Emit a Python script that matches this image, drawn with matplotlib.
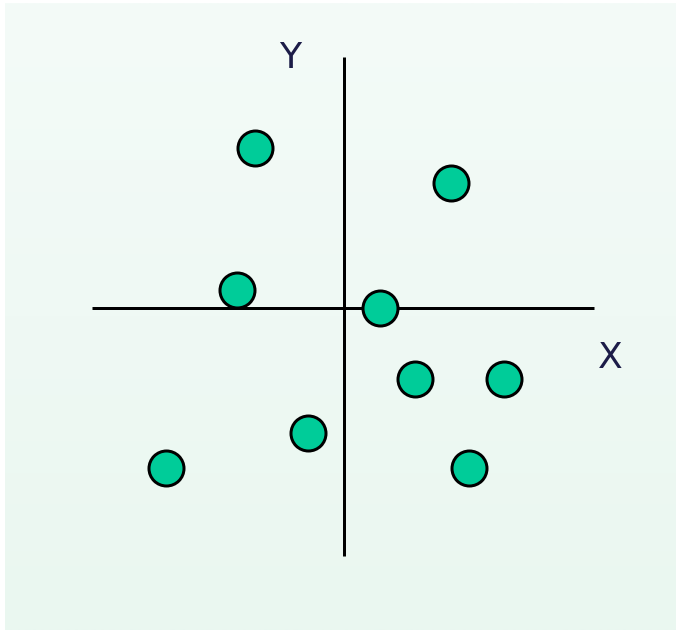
import matplotlib
matplotlib.use("Agg")
import matplotlib.pyplot as plt
import numpy as np

# Data (grid units)
x_vals = [-5, 6, -6, 2, 4, 9, -2, -10, 7]
y_vals = [9, 7, 1, 0, -4, -4, -7, -9, -9]
axis_labels = ["X", "Y"]

W, H, DPI = 676, 630, 100
fig = plt.figure(figsize=(W / DPI, H / DPI), dpi=DPI, facecolor="white")

# gradient background panel
bg = fig.add_axes([5 / W, 0, (W - 5) / W, (H - 3) / H])
bg.axis("off")
top = np.array([0xF4, 0xFB, 0xF8]) / 255
bot = np.array([0xEA, 0xF7, 0xF0]) / 255
t = np.linspace(0, 1, 256)[:, None]
grad = top[None, :] * (1 - t) + bot[None, :] * t
bg.imshow(grad[:, None, :], aspect="auto", extent=[0, 1, 0, 1])

# main axes spanning whole figure; 1 unit = 17.8 px, origin at (344, 308) px
unit = 17.8
ox, oy = 344, 308
ax = fig.add_axes([0, 0, 1, 1])
ax.patch.set_alpha(0)
ax.set_xlim(-ox / unit, (W - ox) / unit)
ax.set_ylim(-(H - oy) / unit, oy / unit)
ax.axis("off")

lw = 3 * 72 / DPI
ax.plot([-14.15, 14.05], [0, 0], color="black", lw=lw, solid_capstyle="butt", zorder=1)
ax.plot([0, 0], [-13.95, 14.1], color="black", lw=lw, solid_capstyle="butt", zorder=1)

ms = (35 * 72 / DPI) ** 2
ax.scatter(x_vals, y_vals, s=ms, c="#00CC99", edgecolors="black",
           linewidths=3 * 72 / DPI, zorder=3)

ax.text((610 - ox) / unit, (oy - 358) / unit, axis_labels[0], fontsize=26,
        color="#1c1c48", ha="center", va="center", family="DejaVu Sans")
ax.text((290 - ox) / unit, (oy - 58) / unit, axis_labels[1], fontsize=26,
        color="#1c1c48", ha="center", va="center", family="DejaVu Sans")

fig.savefig("out.png", dpi=DPI, facecolor="white")
